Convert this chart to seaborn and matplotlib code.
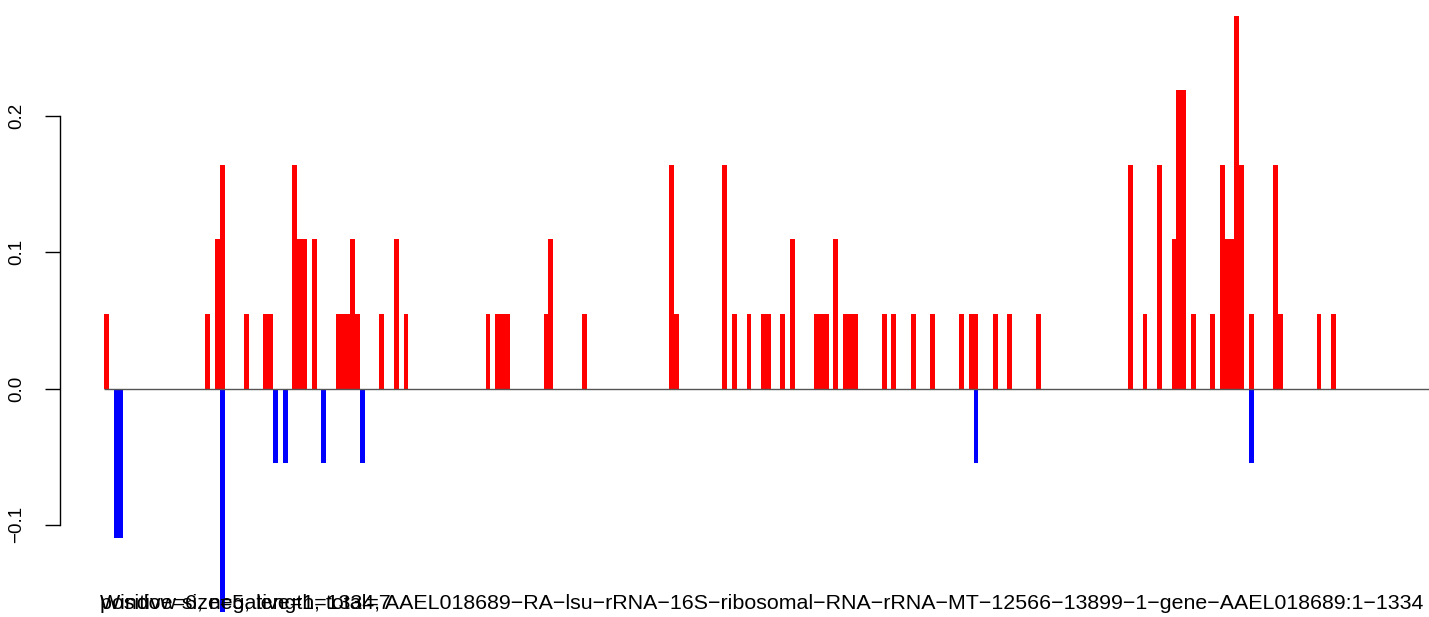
import pandas as pd
import matplotlib.pyplot as plt
import seaborn as sns

# window index and score of every non-empty window
pos_slots = [0, 21, 23, 24, 29, 33, 34, 39, 40, 41, 43, 48, 49, 50, 51, 52, 57, 60, 62,
             79, 81, 82, 83, 91, 92, 99, 117, 118, 128, 130, 133, 136, 137, 140, 142,
             147, 148, 149, 151, 153, 154, 155, 161, 163, 167, 171, 177, 179, 180,
             184, 187, 193, 212, 215, 218, 221, 222, 223, 225, 229, 231, 232, 233,
             234, 235, 237, 242, 243, 251, 254]
pos_values = [0.0547, 0.0547, 0.1094, 0.1641, 0.0547, 0.0547, 0.0547, 0.1641, 0.1094, 0.1094,
              0.1094, 0.0547, 0.0547, 0.0547, 0.1094, 0.0547, 0.0547, 0.1094, 0.0547,
              0.0547, 0.0547, 0.0547, 0.0547, 0.0547, 0.1094, 0.0547, 0.1641, 0.0547,
              0.1641, 0.0547, 0.0547, 0.0547, 0.0547, 0.0547, 0.1094,
              0.0547, 0.0547, 0.0547, 0.1094, 0.0547, 0.0547, 0.0547,
              0.0547, 0.0547, 0.0547, 0.0547, 0.0547, 0.0547, 0.0547,
              0.0547, 0.0547, 0.0547, 0.1641, 0.0547, 0.1641, 0.1094, 0.2188, 0.2188,
              0.0547, 0.0547, 0.1641, 0.1094, 0.1094, 0.2735, 0.1641, 0.0547,
              0.1641, 0.0547, 0.0547, 0.0547]
neg_slots = [2, 3, 24, 35, 37, 45, 53, 180, 237]
neg_values = [-0.1094, -0.1094, -0.1641, -0.0547, -0.0547, -0.0547, -0.0547, -0.0547, -0.0547]

y_ticks = [-0.1, 0.0, 0.1, 0.2]
y_tick_labels = ['\u22120.1', '0.0', '0.1', '0.2']

label_main = ('Window size=5, length=1334, AAEL018689\u2212RA\u2212lsu\u2212rRNA\u221216S\u2212'
              'ribosomal\u2212RNA\u2212rRNA\u2212MT\u221212566\u221213899\u22121\u2212gene\u2212'
              'AAEL018689:1\u22121334')
label_counts = 'positive=6, negative=1, total=7'

df = pd.concat([
    pd.DataFrame({'slot': pos_slots, 'value': pos_values, 'sign': 'pos'}),
    pd.DataFrame({'slot': neg_slots, 'value': neg_values, 'sign': 'neg'}),
])

sns.set_theme(style='white')
plt.rcParams['font.family'] = ['Liberation Sans', 'DejaVu Sans']

W, H = 1429, 617
fig = plt.figure(figsize=(W / 100, H / 100), dpi=100)
ax = fig.add_axes([60 / W, 0, 1 - 60 / W, 1])

sns.barplot(data=df, x='slot', y='value', hue='sign', native_scale=True, dodge=False,
            palette={'pos': '#ff0000', 'neg': '#0000ff'}, saturation=1, width=1,
            errorbar=None, legend=False, linewidth=0, ax=ax)

px = 4.831  # pixels per window
x_left = (60 - 104) / px - 0.5
x_right = (W - 104) / px - 0.5
ax.set_xlim(x_left, x_right)
ax.set_ylim(-(H - 388.5) / 1362, 388.5 / 1362)

ax.hlines(0, min(pos_slots + neg_slots) - 0.5, x_right, color='#555555', lw=1, zorder=5)

for s in ['top', 'right', 'bottom']:
    ax.spines[s].set_visible(False)
ax.spines['left'].set_bounds(y_ticks[0], y_ticks[-1])
ax.spines['left'].set_color('black')
ax.spines['left'].set_linewidth(1)
ax.set_xticks([])
ax.set_yticks(y_ticks)
ax.set_yticklabels(y_tick_labels, rotation=90, va='center')
ax.tick_params(axis='y', left=True, length=11, width=1, pad=14, labelsize=13.5,
               color='black', labelcolor='black')
ax.set_xlabel('')
ax.set_ylabel('')

# the two labels overlap in the original output as well
fig.text(100 / W, 1 - 609 / H, label_main, ha='left', va='baseline', fontsize=15.4, color='black')
fig.text(100 / W, 1 - 609 / H, label_counts, ha='left', va='baseline', fontsize=15.4, color='black')

fig.savefig('out.png', dpi=100)
